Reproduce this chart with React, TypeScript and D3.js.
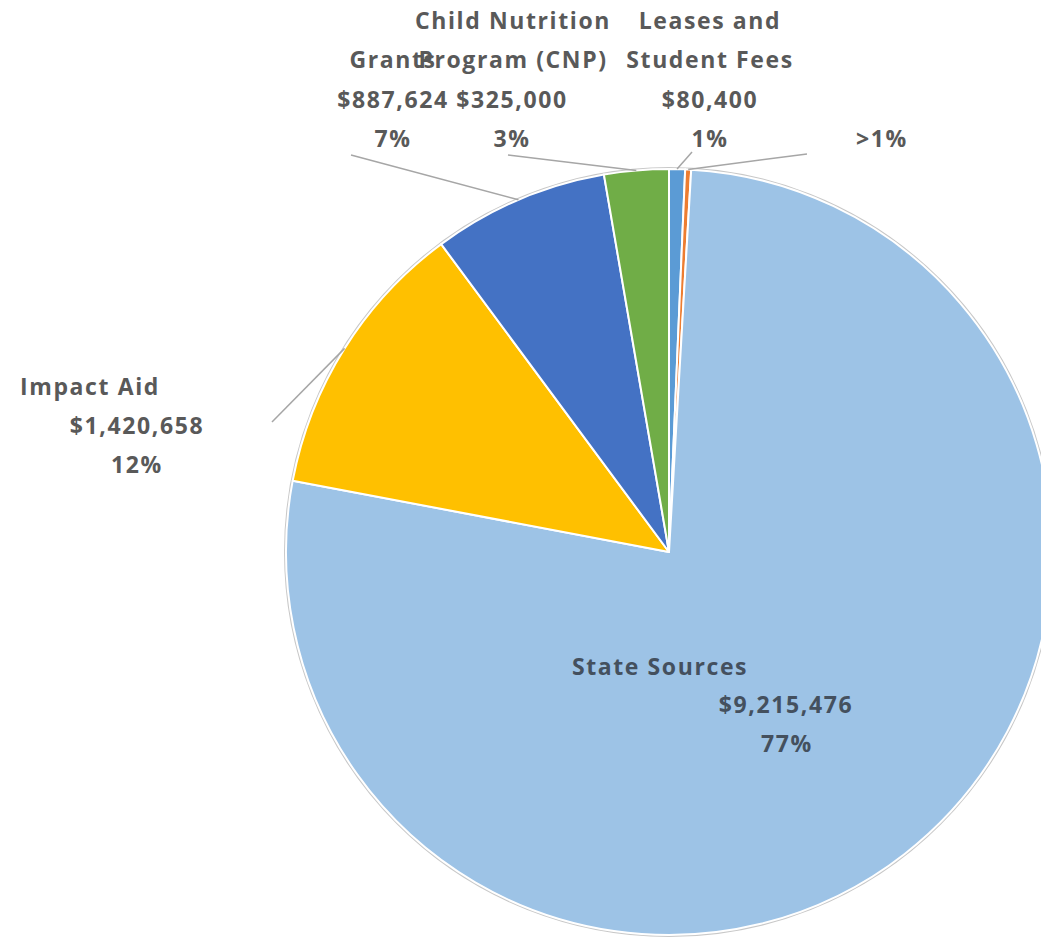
import React from "react";
import * as d3 from "d3";

// Data (clockwise from 12 o'clock)
const categories = [
  "Leases and\nStudent Fees",
  "",
  "State Sources",
  "Impact Aid",
  "Grants",
  "Child Nutrition\nProgram (CNP)",
];
const values = [80400, 30000, 9215476, 1420658, 887624, 325000];
const showValue = [true, false, true, true, true, true];
const colors = ["#5B9BD5", "#ED7D31", "#9DC3E6", "#FFC000", "#4472C4", "#70AD47"];

// Layout (label line centres/baselines and leader line starts)
const labelLayout = [
  { xs: [710, 710, 710, 710], ys: [29, 68, 108, 147], leader: [692, 152], fill: "#595959" },
  { xs: [882], ys: [147], leader: [807, 154], fill: "#595959" },
  { xs: [660, 786, 787], ys: [675, 713, 752], leader: null, fill: "#44505e" },
  { xs: [90, 137, 137], ys: [395, 434, 473], leader: [272, 422], fill: "#595959" },
  { xs: [393, 393, 393], ys: [68, 108, 147], leader: [351, 155], fill: "#595959" },
  { xs: [513, 513, 512, 512], ys: [29, 68, 108, 147], leader: [508, 155], fill: "#595959" },
];

const W = 1041;
const H = 941;
const cx = 669;
const cy = 552;
const R = 383;

export default function App() {
  const total = d3.sum(values);
  const pie = d3.pie<number>().sort(null).value((d) => d);
  const arcs = pie(values);
  const arcGen = d3.arc<d3.PieArcDatum<number>>().innerRadius(0).outerRadius(R);
  const fmtVal = d3.format("$,");

  const pctText = (v: number) => {
    const p = (v / total) * 100;
    return p < 0.5 ? ">1%" : `${Math.round(p)}%`;
  };

  return (
    <svg
      width={W}
      height={H}
      style={{ position: "absolute", left: 0, top: 0, background: "#fff" }}
      fontFamily="'Open Sans', 'Noto Sans', sans-serif"
    >
      <g transform={`translate(${cx},${cy})`}>
        <circle r={R + 1} fill="none" stroke="#C8C8C8" strokeWidth={2} />
        {arcs.map((a, i) => (
          <path key={i} d={arcGen(a) || ""} fill={colors[i]} stroke="#fff" strokeWidth={2} strokeLinejoin="round" />
        ))}
      </g>
      {arcs.map((a, i) => {
        const L = labelLayout[i];
        if (!L.leader) return null;
        const mid = (a.startAngle + a.endAngle) / 2;
        const ex = cx + R * Math.sin(mid);
        const ey = cy - R * Math.cos(mid);
        return (
          <line key={"l" + i} x1={L.leader[0]} y1={L.leader[1]} x2={ex} y2={ey} stroke="#A6A6A6" strokeWidth={1.5} />
        );
      })}
      {arcs.map((a, i) => {
        const L = labelLayout[i];
        const lines: string[] = [];
        if (categories[i]) lines.push(...categories[i].split("\n"));
        if (showValue[i]) lines.push(fmtVal(values[i]));
        lines.push(pctText(values[i]));
        return (
          <g key={"t" + i}>
            {lines.map((t, j) => (
              <text
                key={j}
                x={L.xs[j]}
                y={L.ys[j]}
                textAnchor="middle"
                fontSize={23}
                fontWeight={700}
                letterSpacing={1.6}
                fill={L.fill}
              >
                {t}
              </text>
            ))}
          </g>
        );
      })}
    </svg>
  );
}
